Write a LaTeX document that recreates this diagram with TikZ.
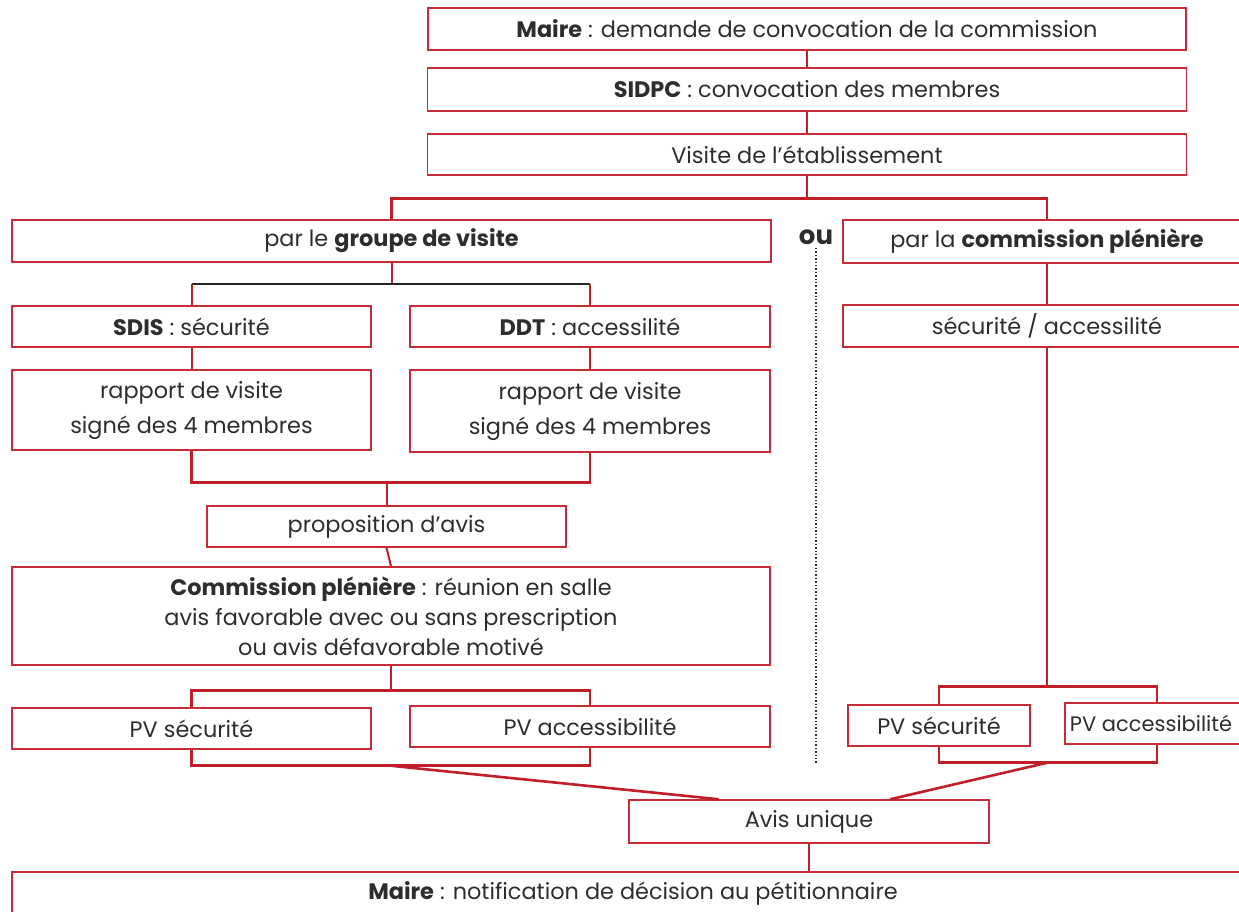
\documentclass[tikz,border=0pt]{standalone}
\usepackage{fontspec}
\setmainfont{Poppins}
\usepackage{tikz}
\usetikzlibrary{calc}
\definecolor{boxred}{RGB}{200,45,55}
\definecolor{linkred}{RGB}{192,30,40}
\definecolor{textgray}{RGB}{45,45,45}
\tikzset{
	box/.style={draw=boxred, line width=1.5pt, inner sep=0pt, align=center, text=textgray, font=\fontsize{22.4}{30}\selectfont},
	link/.style={draw=linkred, line width=2pt},
	bar/.style={draw=linkred, line width=2.6pt},
}

\begin{document}
\begin{tikzpicture}[x=1pt, y=-1pt]
			%%%%% START %%%%%
			\useasboundingbox (0, 0) rectangle (1239, 912);
			
			\node[box, minimum width=758, minimum height=42] (maire) at (807, 29) {\textbf{Maire} : demande de convocation de la commission};
			\node[box, minimum width=759, minimum height=43] (sidpc) at (807, 89.5) {\textbf{SIDPC} : convocation des membres};
			\node[box, minimum width=759, minimum height=41] (visite) at (807, 154.5) {Visite de l'établissement};
			
			\node[box, minimum width=759, minimum height=42] (groupe) at (391.5, 241) {par le \textbf{groupe de visite}};
			\node[box, minimum width=408, minimum height=43] (pleniere) at (1047, 241.5) {par la \textbf{commission plénière}};
			\node[font=\fontsize{26}{26}\selectfont\bfseries, text=textgray] (ou) at (816, 237) {ou};
			
			\node[box, minimum width=359, minimum height=41] (sdis) at (191.5, 326.5) {\textbf{SDIS} : sécurité};
			\node[box, minimum width=360, minimum height=41] (ddt) at (590, 326.5) {\textbf{DDT} : accessilité};
			\node[box, minimum width=408, minimum height=42] (secacc) at (1047, 326) {sécurité / accessilité};
			
			\node[box, minimum width=359, minimum height=80] (rapportsdis) at (191.5, 410) {rapport de visite\\[5pt]signé des 4 membres};
			\node[box, minimum width=360, minimum height=82] (rapportddt) at (590, 411) {rapport de visite\\[5pt]signé des 4 membres};
			
			\node[box, minimum width=359, minimum height=41] (propos) at (386.5, 526.5) {proposition d'avis};
			\node[box, minimum width=758, minimum height=98] (commission) at (391, 616) {\textbf{Commission plénière} : réunion en salle\\avis favorable avec ou sans prescription\\ou avis défavorable motivé};
			
			\node[box, minimum width=359, minimum height=41] (pvsecg) at (191.5, 728.5) {PV sécurité};
			\node[box, minimum width=360, minimum height=41] (pvaccg) at (590, 726.5) {PV accessibilité};
			\node[box, minimum width=182, minimum height=41] (pvsecd) at (939, 725.5) {PV sécurité};
			\node[box, minimum width=184, minimum height=41, font=\fontsize{21}{30}\selectfont] (pvaccd) at (1157, 723.5) {PV accessibilité\hspace*{12pt}};
			
			\node[box, minimum width=360, minimum height=43] (avis) at (809, 821.5) {Avis unique};
			\node[box, minimum width=1242, minimum height=42] (notif) at (633, 893) {\textbf{Maire} : notification de décision au pétitionnaire};
			
			% haut
			\draw[link] (maire.south) -- (sidpc.north);
			\draw[link] (sidpc.south) -- (visite.north);
			\draw[link] (visite.south) -- ++(0, 23) coordinate (fork1);
			\draw[bar] (groupe.north) |- (fork1) -| (pleniere.north);
			
			% groupe de visite
			\draw[link] (groupe.south) -- ++(0, 21) coordinate (fork2);
			\draw[line width=2pt, color=black!85] (sdis.north |- fork2) -- (ddt.north |- fork2);
			\draw[link] (sdis.north |- fork2) -- (sdis.north);
			\draw[link] (ddt.north |- fork2) -- (ddt.north);
			\draw[link] (sdis.south) -- (rapportsdis.north);
			\draw[link] (ddt.south) -- (rapportddt.north);
			\draw[link] (propos.north) -- ++(0, -23) coordinate (join1);
			\draw[bar] (rapportsdis.south) |- (join1) -| (rapportddt.south);
			\draw[link] (propos.south) -- (commission.north);
			\draw[link] (commission.south) -- ++(0, 25) coordinate (fork3);
			\draw[bar] (pvsecg.north) |- (fork3) -| (pvaccg.north);
			\draw[bar] (pvsecg.south) -- ++(0, 16) coordinate (join2) -| (pvaccg.south);
			\draw[bar] (commission.south |- join2) -- ($(avis.north west)!0.25!(avis.north east)$);
			
			% commission plenière
			\draw[link] (pleniere.south) -- (secacc.north);
			\draw[link] (secacc.south) -- ++(0, 339) coordinate (fork4);
			\draw[bar] (pvsecd.north) |- (fork4) -| (pvaccd.north);
			\draw[bar] (pvsecd.south) -- ++(0, 16) coordinate (join3) -| (pvaccd.south);
			\draw[bar] (fork4 |- join3) -- ($(avis.north west)!0.725!(avis.north east)$);
			
			\draw[link] (avis.south) -- (avis.south |- notif.north);
			\draw[line width=1.4pt, dotted, color=textgray] (ou.south) -- (ou.south |- join3);
			%%%%% END %%%%%
\end{tikzpicture}
\end{document}
